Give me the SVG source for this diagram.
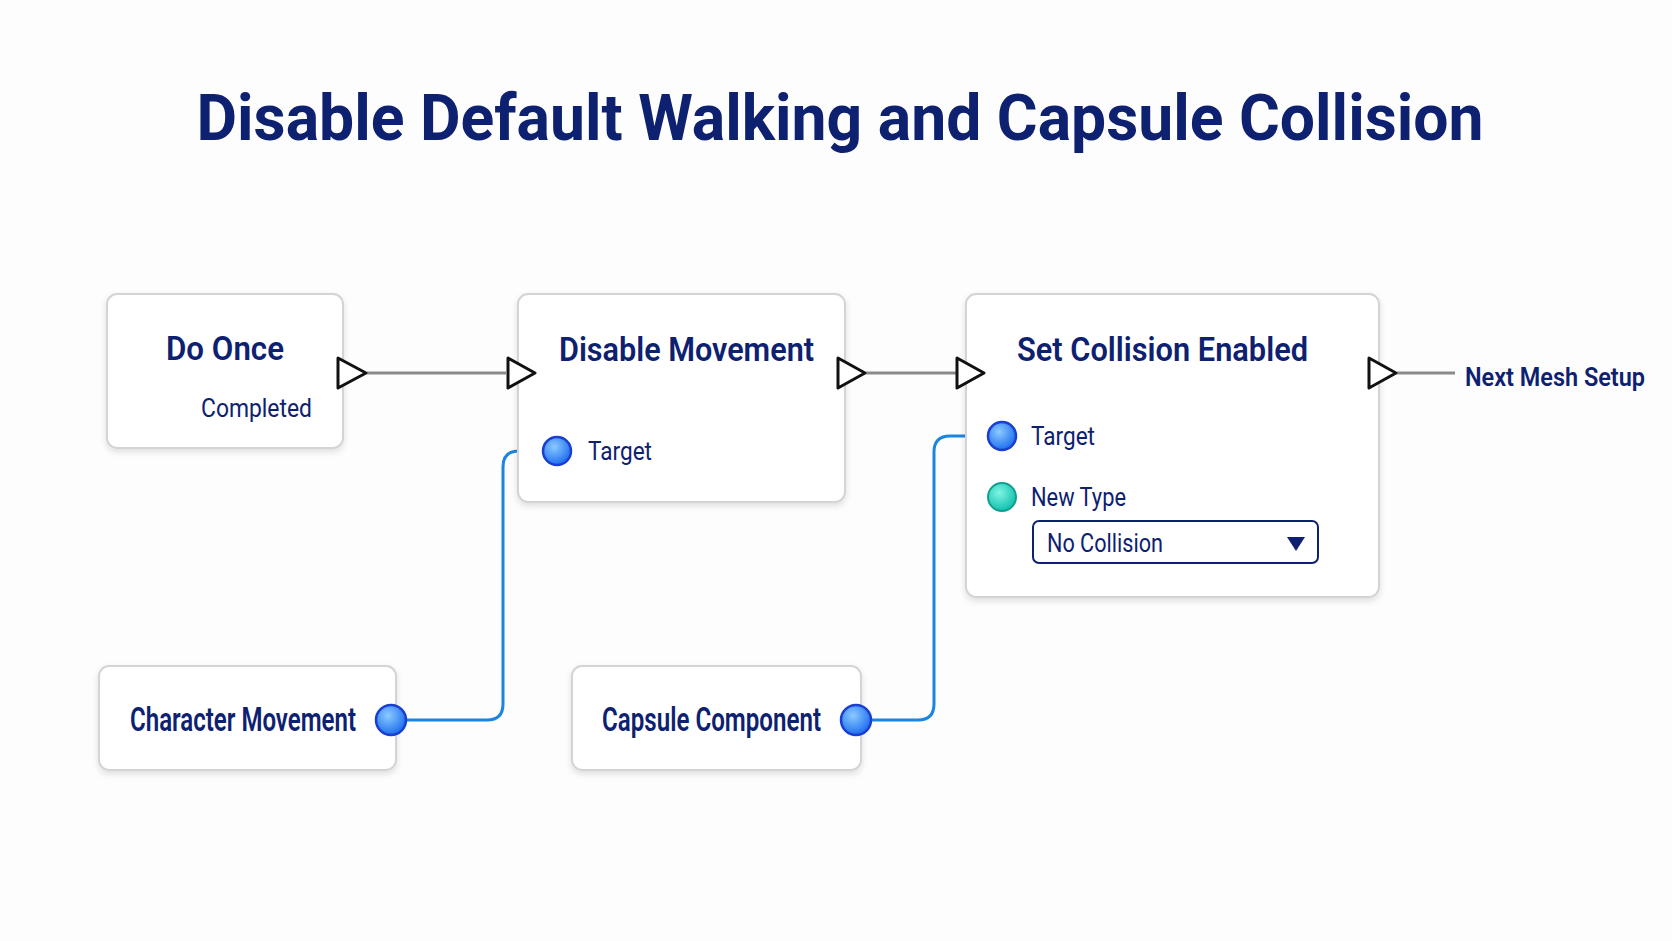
<svg xmlns="http://www.w3.org/2000/svg" width="1672" height="941" viewBox="0 0 1672 941">
<defs>
<style>
.card{fill:#fff;stroke:#d4d4d8;stroke-width:2;filter:url(#sh)}
.t{font-family:"Roboto","Liberation Sans",sans-serif;fill:#0d2170}
.h{font-size:33px;font-weight:600}
.l{font-size:25px}
.ex{fill:#fff;stroke:#111;stroke-width:3;stroke-linejoin:round}
.ew{stroke:#8a8a8a;stroke-width:3;fill:none}
.bw{stroke:#1a86e0;stroke-width:3;fill:none}
.bp{fill:url(#bg);stroke:#1a3fd0;stroke-width:2.5}
</style>
<filter id="sh" x="-10%" y="-10%" width="120%" height="130%"><feDropShadow dx="0" dy="3" stdDeviation="3" flood-color="#000" flood-opacity="0.12"/></filter>
<radialGradient id="bg" cx="40%" cy="35%" r="65%"><stop offset="0" stop-color="#8ccaff"/><stop offset="1" stop-color="#1e6ff0"/></radialGradient>
<radialGradient id="tg" cx="40%" cy="35%" r="65%"><stop offset="0" stop-color="#7ff5e4"/><stop offset="1" stop-color="#13c0ae"/></radialGradient>
</defs>
<rect width="1672" height="941" fill="#fdfdfd"/>
<text x="840" y="140" text-anchor="middle" textLength="1287" lengthAdjust="spacingAndGlyphs" font-family="Roboto,'Liberation Sans',sans-serif" font-weight="bold" font-size="64" fill="#0d2170">Disable Default Walking and Capsule Collision</text>
<g id="connectors">
<path class="ew" d="M367,373 H506"/>
<path class="ew" d="M866,373 H956"/>
<path class="ew" d="M1397,373 H1455"/>
<path class="bw" d="M391,720 H487 Q503,720 503,704 V467 Q503,451 519,451 H557"/>
<path class="bw" d="M856,720 H918 Q934,720 934,704 V452 Q934,436 950,436 H1002"/>
</g>
<g id="do-once">
<rect class="card" x="107" y="294" width="236" height="154" rx="10"/>
<text class="t h" x="166" y="360" textLength="118" lengthAdjust="spacingAndGlyphs">Do Once</text>
<text class="t l" x="201" y="417" textLength="111" lengthAdjust="spacingAndGlyphs">Completed</text>
<path class="ex" d="M338,358 L366,373 L338,388 Z"/>
</g>
<g id="disable-movement">
<rect class="card" x="518" y="294" width="327" height="208" rx="10"/>
<path class="ex" d="M508,358 L535,373 L508,388 Z"/>
<text class="t h" x="559" y="361" textLength="255" lengthAdjust="spacingAndGlyphs">Disable Movement</text>
<circle class="bp" cx="557" cy="451" r="14"/>
<text class="t l" x="588" y="460" textLength="64" lengthAdjust="spacingAndGlyphs">Target</text>
<path class="ex" d="M838,358 L865,373 L838,388 Z"/>
</g>
<g id="set-collision">
<rect class="card" x="966" y="294" width="413" height="303" rx="10"/>
<path class="ex" d="M957,358 L984,373 L957,388 Z"/>
<text class="t h" x="1017" y="361" textLength="291" lengthAdjust="spacingAndGlyphs">Set Collision Enabled</text>
<circle class="bp" cx="1002" cy="436" r="14"/>
<text class="t l" x="1031" y="445" textLength="64" lengthAdjust="spacingAndGlyphs">Target</text>
<circle cx="1002" cy="497" r="14" fill="url(#tg)" stroke="#10a090" stroke-width="2"/>
<text class="t l" x="1031" y="506" textLength="95" lengthAdjust="spacingAndGlyphs">New Type</text>
<rect x="1033" y="521" width="285" height="42" rx="6" fill="#fff" stroke="#0d2170" stroke-width="2"/>
<text class="t l" x="1047" y="552" textLength="116" lengthAdjust="spacingAndGlyphs">No Collision</text>
<path d="M1287,537 H1305 L1296,551 Z" fill="#0d2170"/>
<path class="ex" d="M1369,358 L1396,373 L1369,388 Z"/>
<text class="t l" x="1465" y="386" font-weight="600" textLength="180" lengthAdjust="spacingAndGlyphs">Next Mesh Setup</text>
</g>
<g id="character-movement">
<rect class="card" x="99" y="666" width="297" height="104" rx="10"/>
<text class="t h" x="130" y="731" font-size="30" textLength="226" lengthAdjust="spacingAndGlyphs">Character Movement</text>
<circle class="bp" cx="391" cy="720" r="15"/>
</g>
<g id="capsule-component">
<rect class="card" x="572" y="666" width="289" height="104" rx="10"/>
<text class="t h" x="602" y="731" font-size="30" textLength="219" lengthAdjust="spacingAndGlyphs">Capsule Component</text>
<circle class="bp" cx="856" cy="720" r="15"/>
</g>
</svg>
